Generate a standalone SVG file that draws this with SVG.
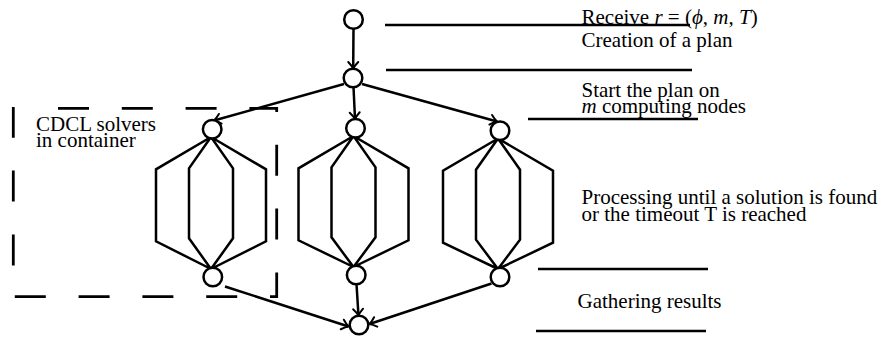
<svg xmlns="http://www.w3.org/2000/svg" width="882" height="338" viewBox="0 0 882 338">
<style>
.t{font-family:"Liberation Serif","Times New Roman",serif;font-size:21px;fill:#000}
.i{font-style:italic}
.n{fill:#fff;stroke:#000;stroke-width:2.5}
.e{fill:none;stroke:#000;stroke-width:2.5;stroke-linejoin:miter}
.a{fill:none;stroke:#000;stroke-width:2.5;marker-end:url(#ah)}
.h{fill:none;stroke:#000;stroke-width:2.7}
</style>
<defs>
<marker id="ah" markerUnits="userSpaceOnUse" viewBox="-9 -7 11 14" markerWidth="11" markerHeight="14" refX="0" refY="0" orient="auto" overflow="visible">
<path d="M-6.5,-5 Q-2.5,-1.2 0,0 Q-2.5,1.2 -6.5,5" fill="none" stroke="#000" stroke-width="2" stroke-linecap="round"/>
</marker>
</defs>
<rect width="882" height="338" fill="#fff"/>
<g id="container">
<path d="M58,108.3 H276.7 V296.7 H13.3 V107" fill="none" stroke="#000" stroke-width="2.8" stroke-dasharray="31 32.8"/>
<text class="t" x="36" y="130.7">CDCL solvers</text>
<text class="t" x="36" y="146.5">in container</text>
</g>
<g id="connectors">
<line class="a" x1="353.5" y1="28.5" x2="353.2" y2="68.5"/>
<line class="a" x1="344" y1="84" x2="214" y2="120.5"/>
<line class="a" x1="353.5" y1="87" x2="355" y2="119"/>
<line class="a" x1="362" y1="84" x2="497" y2="121.5"/>
<line class="a" x1="225" y1="286.5" x2="348.5" y2="326.5"/>
<line class="a" x1="356.5" y1="284.5" x2="358.5" y2="315.5"/>
<line class="a" x1="491.5" y1="283.5" x2="369.5" y2="324"/>
<path class="e" d="M211,137 L156,169.3 V241.3 L211,269 M211,137 L266,169.3 V241.3 L211,269 M211,137 L189,168.3 V238.3 L211,269 M211,137 L233,168.3 V238.3 L211,269"/>
<path class="e" d="M353.5,136 L298.5,168.3 V240.3 L353.5,267 M353.5,136 L408.5,168.3 V240.3 L353.5,267 M353.5,136 L331.5,167.3 V237.3 L353.5,267 M353.5,136 L375.5,167.3 V237.3 L353.5,267"/>
<path class="e" d="M498,138.5 L443,170.7 V242.7 L498,269 M498,138.5 L553,170.7 V242.7 L498,269 M498,138.5 L476,169.7 V239.7 L498,269 M498,138.5 L520,169.7 V239.7 L498,269"/>
</g>
<g id="receive"><circle class="n" cx="353.5" cy="19.5" r="9.3"/></g>
<g id="plan"><circle class="n" cx="353" cy="78" r="9.3"/></g>
<g id="solver-left-start"><circle class="n" cx="212.2" cy="129.3" r="9.3"/></g>
<g id="solver-mid-start"><circle class="n" cx="355.5" cy="128.3" r="9.3"/></g>
<g id="solver-right-start"><circle class="n" cx="500" cy="130.7" r="9.3"/></g>
<g id="solver-left-end"><circle class="n" cx="212.8" cy="277" r="9.3"/></g>
<g id="solver-mid-end"><circle class="n" cx="356.2" cy="275" r="9.3"/></g>
<g id="solver-right-end"><circle class="n" cx="500" cy="277" r="9.3"/></g>
<g id="gather"><circle class="n" cx="359" cy="325" r="9.3"/></g>
<g id="phase-lines">
<line class="h" x1="385" y1="25" x2="690" y2="25"/>
<line class="h" x1="386" y1="70" x2="692" y2="70"/>
<line class="h" x1="528" y1="119" x2="698" y2="119"/>
<line class="h" x1="538" y1="269" x2="708" y2="269"/>
<line class="h" x1="536" y1="331" x2="706" y2="331"/>
</g>
<g id="labels">
<text class="t" x="581.5" y="24">Receive <tspan class="i">r</tspan> = (<tspan class="i">ϕ</tspan>, <tspan class="i">m</tspan>, <tspan class="i">T</tspan>)</text>
<text class="t" x="581.5" y="47">Creation of a plan</text>
<text class="t" x="581.5" y="97">Start the plan on</text>
<text class="t" x="581.5" y="113"><tspan class="i">m</tspan> computing nodes</text>
<text class="t" x="581.5" y="204">Processing until a solution is found</text>
<text class="t" x="581.5" y="221">or the timeout T is reached</text>
<text class="t" x="577.5" y="308">Gathering results</text>
</g>
</svg>
